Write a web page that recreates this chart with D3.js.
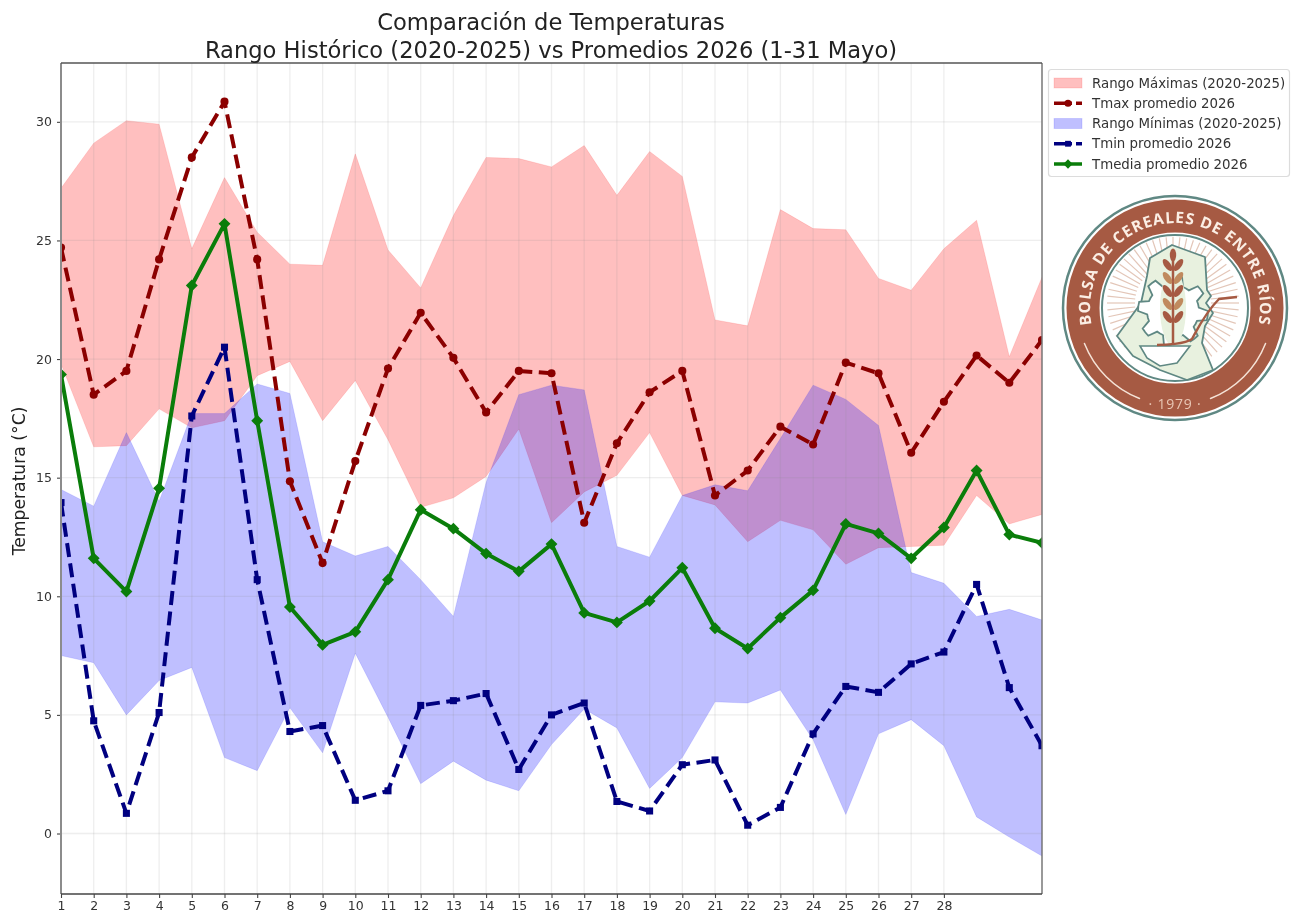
<!DOCTYPE html>
<html>
<head>
<meta charset="utf-8">
<script src="https://cdn.jsdelivr.net/npm/d3@7"></script>
<style>
  html, body { margin: 0; background: #fff; }
  svg { display: block; filter: blur(0.55px); font-family: "DejaVu Sans", sans-serif; }
</style>
</head>
<body>
<svg id="chart" width="1299" height="918"></svg>
<script>
// valores
const dias = d3.range(1, 32)
const xTicks = d3.range(1, 29)
const yTicks = [0, 5, 10, 15, 20, 25, 30]

const rangoMaxAlto = [27.2, 29.1, 30.05, 29.9, 24.65, 27.65, 25.35, 24.0, 23.95, 28.65, 24.6, 23.0, 26.05, 28.5, 28.45, 28.1, 29.0, 26.9, 28.75, 27.7, 21.65, 21.4, 26.3, 25.5, 25.45, 23.4, 22.9, 24.65, 25.85, 20.1, 23.45]
const rangoMaxBajo = [19.8, 16.3, 16.35, 17.9, 17.1, 17.4, 19.3, 19.9, 17.4, 19.1, 16.6, 13.75, 14.15, 15.05, 17.05, 13.1, 14.4, 15.1, 16.9, 14.25, 13.85, 12.3, 13.2, 12.8, 11.35, 12.05, 12.1, 12.15, 14.25, 13.05, 13.45]
const rangoMinAlto = [14.5, 13.8, 16.9, 14.0, 17.7, 17.7, 18.95, 18.55, 12.3, 11.7, 12.1, 10.7, 9.15, 14.8, 18.5, 18.9, 18.7, 12.1, 11.65, 14.25, 14.7, 14.45, 16.65, 18.9, 18.3, 17.2, 11.0, 10.55, 9.15, 9.45, 9.0]
const rangoMinBajo = [7.5, 7.2, 5.0, 6.45, 7.0, 3.2, 2.65, 5.3, 3.4, 7.6, 4.9, 2.1, 3.05, 2.25, 1.8, 3.75, 5.25, 4.45, 1.9, 3.2, 5.55, 5.5, 6.05, 3.95, 0.8, 4.2, 4.8, 3.7, 0.7, -0.15, -0.95]

const tmaxProm = [24.7, 18.5, 19.5, 24.2, 28.5, 30.85, 24.2, 14.85, 11.4, 15.7, 19.6, 21.95, 20.05, 17.75, 19.5, 19.4, 13.1, 16.45, 18.6, 19.5, 14.25, 15.3, 17.15, 16.4, 19.85, 19.4, 16.05, 18.2, 20.15, 19.0, 20.8]
const tminProm = [13.95, 4.75, 0.85, 5.1, 17.6, 20.5, 10.7, 4.3, 4.55, 1.4, 1.8, 5.4, 5.6, 5.9, 2.7, 5.0, 5.5, 1.35, 0.95, 2.9, 3.1, 0.35, 1.1, 4.2, 6.2, 5.95, 7.15, 7.65, 10.5, 6.15, 3.7]
const tmediaProm = [19.35, 11.6, 10.2, 14.55, 23.1, 25.7, 17.4, 9.55, 7.95, 8.5, 10.7, 13.65, 12.85, 11.8, 11.05, 12.2, 9.3, 8.9, 9.8, 11.2, 8.65, 7.8, 9.1, 10.25, 13.05, 12.65, 11.6, 12.9, 15.3, 12.6, 12.25]

const leyenda = ["Rango Máximas (2020-2025)", "Tmax promedio 2026", "Rango Mínimas (2020-2025)", "Tmin promedio 2026", "Tmedia promedio 2026"]

const svg = d3.select("#chart")
const left = 61, right = 1042, top_ = 63, bottom = 894

const x = d3.scaleLinear().domain([1, 31]).range([left, right])
const y = d3.scaleLinear().domain([-2.55, 32.48]).range([bottom, top_])

svg.append("clipPath").attr("id", "plot")
    .append("rect").attr("x", left).attr("y", top_)
    .attr("width", right - left).attr("height", bottom - top_)

const plot = svg.append("g").attr("clip-path", "url(#plot)")

function banda(alto, bajo, color){
    const area = d3.area()
        .x((d, i) => x(dias[i]))
        .y0((d, i) => y(bajo[i]))
        .y1(d => y(d))
    plot.append("path")
        .attr("d", area(alto))
        .attr("fill", color)
        .attr("fill-opacity", 0.25)
        .attr("stroke", color)
        .attr("stroke-opacity", 0.12)
}
banda(rangoMaxAlto, rangoMaxBajo, "#ff0000")
banda(rangoMinAlto, rangoMinBajo, "#0000ff")

// grilla
plot.append("g").selectAll("line").data(xTicks).join("line")
    .attr("x1", d => x(d)).attr("x2", d => x(d))
    .attr("y1", top_).attr("y2", bottom)
    .attr("stroke", "#8a8a8a").attr("stroke-opacity", 0.14).attr("stroke-width", 1.3)
plot.append("g").selectAll("line").data(yTicks).join("line")
    .attr("x1", left).attr("x2", right)
    .attr("y1", d => y(d)).attr("y2", d => y(d))
    .attr("stroke", "#8a8a8a").attr("stroke-opacity", 0.14).attr("stroke-width", 1.3)

const linea = d3.line().x((d, i) => x(dias[i])).y(d => y(d))

function serie(valores, color, dash, simbolo, size){
    plot.append("path")
        .attr("d", linea(valores))
        .attr("fill", "none")
        .attr("stroke", color)
        .attr("stroke-width", 4)
        .attr("stroke-linejoin", "round")
        .attr("stroke-dasharray", dash)
    plot.append("g").selectAll("path").data(valores).join("path")
        .attr("transform", (d, i) => `translate(${x(dias[i])},${y(d)})`)
        .attr("d", d3.symbol().type(simbolo).size(size))
        .attr("fill", color)
}
const diamante = d3.symbolDiamond2
serie(tmaxProm, "#8b0000", "14 6.5", d3.symbolCircle, 52)
serie(tminProm, "#000080", "14 6.5", d3.symbolSquare, 50)
serie(tmediaProm, "#0a7d0a", null, diamante, 90)

// ejes
const ejeX = svg.append("g").attr("transform", `translate(0,${bottom})`)
    .call(d3.axisBottom(x).tickValues(xTicks).tickFormat(d3.format("d")).tickSize(4).tickPadding(3).tickSizeOuter(0))
const ejeY = svg.append("g").attr("transform", `translate(${left},0)`)
    .call(d3.axisLeft(y).tickValues(yTicks).tickFormat(d3.format("d")).tickSize(4).tickPadding(5).tickSizeOuter(0))
ejeX.select(".domain").remove()
ejeY.select(".domain").remove()
svg.selectAll(".tick text").attr("font-size", 12.5).attr("font-family", "DejaVu Sans").attr("fill", "#333")
svg.selectAll(".tick line").attr("stroke", "#444").attr("stroke-width", 1.1)

// marco
svg.append("line").attr("x1", left).attr("x2", left).attr("y1", top_).attr("y2", bottom).attr("stroke", "#8c8c8c").attr("stroke-width", 2)
svg.append("line").attr("x1", right).attr("x2", right).attr("y1", top_).attr("y2", bottom).attr("stroke", "#777").attr("stroke-width", 1.5)
svg.append("line").attr("x1", left).attr("x2", right).attr("y1", top_).attr("y2", top_).attr("stroke", "#555").attr("stroke-width", 1.3)
svg.append("line").attr("x1", left).attr("x2", right).attr("y1", bottom).attr("y2", bottom).attr("stroke", "#444").attr("stroke-width", 1.3)

// titulos
svg.append("text").attr("x", 551).attr("y", 30).attr("text-anchor", "middle")
    .attr("font-size", 22.6).attr("fill", "#222").text("Comparación de Temperaturas")
svg.append("text").attr("x", 551).attr("y", 58).attr("text-anchor", "middle")
    .attr("font-size", 22.6).attr("fill", "#222").text("Rango Histórico (2020-2025) vs Promedios 2026 (1-31 Mayo)")
svg.append("text").attr("transform", "translate(24.5,481) rotate(-90)").attr("text-anchor", "middle")
    .attr("font-size", 17.2).attr("fill", "#222").text("Temperatura (°C)")

// leyenda
const ley = svg.append("g")
ley.append("rect").attr("x", 1048.5).attr("y", 69.5).attr("width", 241).attr("height", 107).attr("rx", 3)
    .attr("fill", "#fff").attr("stroke", "#dcdcdc").attr("stroke-width", 1.2)
const filaY = d3.scalePoint().domain(leyenda).range([83, 164])
leyenda.forEach(t => {
    ley.append("text").attr("x", 1092).attr("y", filaY(t) + 4.5)
        .attr("font-size", 13.35).attr("fill", "#333").text(t)
})
function parche(t, color){
    ley.append("rect").attr("x", 1054).attr("y", filaY(t) - 5).attr("width", 28).attr("height", 10)
        .attr("fill", color).attr("fill-opacity", 0.25).attr("stroke", color).attr("stroke-opacity", 0.12)
}
function muestra(t, color, dash, simbolo, size){
    ley.append("line").attr("x1", 1054).attr("x2", 1082).attr("y1", filaY(t)).attr("y2", filaY(t))
        .attr("stroke", color).attr("stroke-width", 3.5).attr("stroke-dasharray", dash)
    ley.append("path").attr("transform", `translate(1068,${filaY(t)})`)
        .attr("d", d3.symbol().type(simbolo).size(size)).attr("fill", color)
}
parche(leyenda[0], "#ff0000")
muestra(leyenda[1], "#8b0000", "18 4 6", d3.symbolCircle, 40)
parche(leyenda[2], "#0000ff")
muestra(leyenda[3], "#000080", "18 4 6", d3.symbolSquare, 34)
muestra(leyenda[4], "#0a7d0a", null, diamante, 55)

// logo
const logo = svg.append("g").attr("transform", "translate(1175,308)")
const marron = "#a65a43", teal = "#5f8883", verdeClaro = "#e8f1df"
logo.append("circle").attr("r", 112).attr("fill", "#fff").attr("stroke", teal).attr("stroke-width", 2.5)
logo.append("circle").attr("r", 92).attr("fill", "none").attr("stroke", marron).attr("stroke-width", 33)
logo.append("circle").attr("r", 73).attr("fill", "#fff").attr("stroke", teal).attr("stroke-width", 2)

const rayos = logo.append("g").attr("transform", "translate(-2,-5)")
rayos.selectAll("line").data(d3.range(0, 360, 6)).join("line")
    .attr("x1", 0).attr("y1", -38).attr("x2", 0).attr("y2", -66)
    .attr("transform", d => `rotate(${d})`)
    .attr("stroke", "#e3c6b8").attr("stroke-width", 1.2)

logo.append("path")
    .attr("d", "M-25,-50 L-3,-63 L30,-51 L32,-18 L36,-12 L31,-5 L38,5 L30,18 L27,35 L38,62 L12,72 L-15,62 L-42,48 L-58,28 L-34,-5 L-28,-32 Z")
    .attr("fill", verdeClaro).attr("stroke", teal).attr("stroke-width", 1.8).attr("stroke-linejoin", "round")

// engranaje
const dientes = d3.range(0, 48).map(i => {
    const a = i / 48 * 2 * Math.PI
    const r = (i % 6 < 3) ? 35 : 26
    return [a, r]
})
logo.append("path").attr("transform", "translate(-2,3)")
    .attr("d", d3.lineRadial().curve(d3.curveLinearClosed)(dientes))
    .attr("fill", "#fff").attr("stroke", teal).attr("stroke-width", 1.8)
logo.append("ellipse").attr("cx", -2).attr("cy", 0).attr("rx", 13).attr("ry", 38).attr("fill", verdeClaro)

// cuenco
logo.append("path").attr("d", "M-35,38 L15,38 L2,55 L-15,58 L-28,50 Z")
    .attr("fill", "#fff").attr("stroke", teal).attr("stroke-width", 1.6)

// trigo
logo.append("line").attr("x1", -2).attr("y1", -50).attr("x2", -2).attr("y2", 36).attr("stroke", marron).attr("stroke-width", 2.5)
d3.range(0, 5).forEach(i => {
    const yy = -43 + i * 13
    ;[-1, 1].forEach(s => {
        logo.append("ellipse").attr("rx", 3.2).attr("ry", 7)
            .attr("transform", `translate(${-2 + s * 5.5},${yy}) rotate(${s * 35})`)
            .attr("fill", i % 2 ? "#c08a5e" : marron)
    })
})
logo.append("ellipse").attr("cx", -2).attr("cy", -53).attr("rx", 3.2).attr("ry", 6.5).attr("fill", marron)

// hoz
logo.append("path").attr("d", "M62,-11 L44,-9 C30,5 22,22 17,31 C10,36 -10,37 -18,37")
    .attr("fill", "none").attr("stroke", marron).attr("stroke-width", 2.4)

// textos del logo
const defs = svg.append("defs")
defs.append("path").attr("id", "arcoLogo").attr("d", "M0,85 A85,85 0 1,1 0,-85 A85,85 0 1,1 0,85")
logo.append("text").attr("font-family", "Open Sans").attr("font-weight", 700).attr("font-size", 15.6)
    .attr("letter-spacing", 0.9).attr("fill", "#fbeee4").attr("text-anchor", "middle")
    .append("textPath").attr("href", "#arcoLogo").attr("startOffset", "50%")
    .text("BOLSA DE CEREALES DE ENTRE RÍOS")
logo.append("text").attr("y", 101).attr("text-anchor", "middle").attr("font-family", "Open Sans")
    .attr("font-size", 14).attr("letter-spacing", 0.8).attr("fill", "#e9c7b5").text("· 1979 ·")
const arcoBajo = d3.arc().innerRadius(96.5).outerRadius(98).cornerRadius(0.7)
;[[111, 159], [201, 249]].forEach(a => {
    logo.append("path")
        .attr("d", arcoBajo({startAngle: a[0] * Math.PI / 180, endAngle: a[1] * Math.PI / 180}))
        .attr("fill", "#f5e3d7")
})
</script>
</body>
</html>
